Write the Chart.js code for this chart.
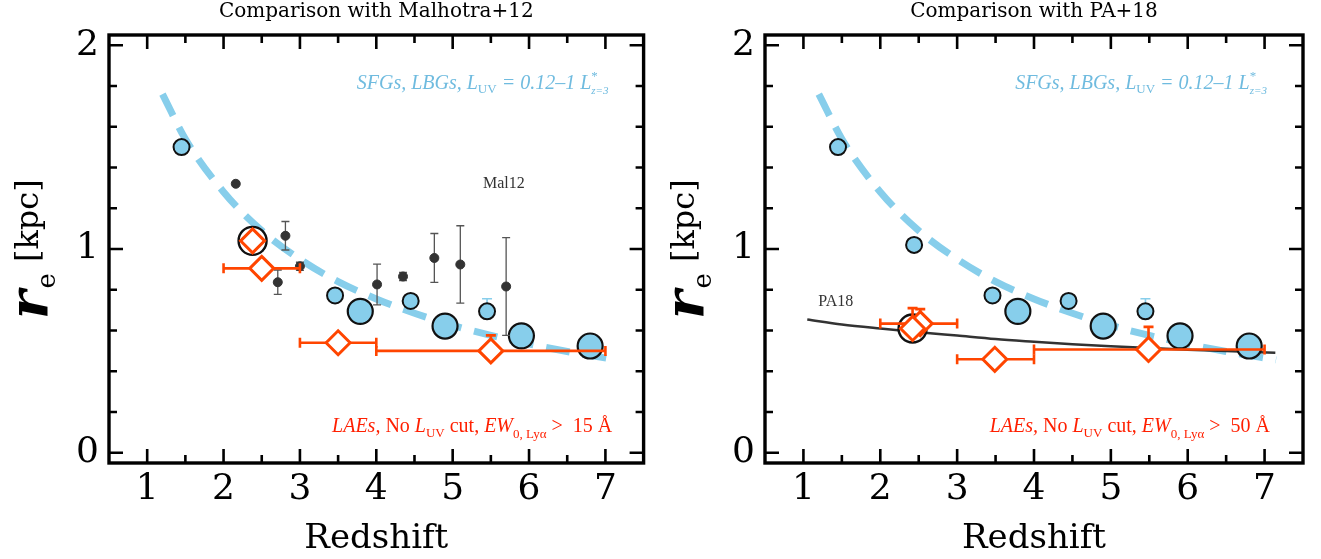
<!DOCTYPE html><html lang="en"><head>
<meta charset="UTF-8">
<title>Size evolution of SFGs and LAEs</title>
<script src="https://cdn.jsdelivr.net/npm/chart.js@4.4.1/dist/chart.umd.min.js"></script>
<style>
  body { margin: 0; background: #fff; }
  #wrap { position: relative; width: 1321px; height: 559px; }
  canvas { position: absolute; top: 0; }
</style>
</head>
<body>
<div id="wrap">
  <canvas id="left" width="660" height="559" style="left:0px"></canvas>
  <canvas id="right" width="661" height="559" style="left:660px"></canvas>
</div>
<script>
// tick values
const xTickVals = [1, 2, 3, 4, 5, 6, 7];
const xMinorVals = [1.5, 2.5, 3.5, 4.5, 5.5, 6.5];
const yTickVals = [0, 1, 2];
const yMinorVals = [0.2, 0.4, 0.6, 0.8, 1.2, 1.4, 1.6, 1.8];

// SFGs / LBGs, L_UV = 0.12-1 L*  (same in both panels)
const sfgSmallZ = [1.45, 2.44, 3.46, 4.45, 5.45];
const sfgSmallR = [1.50, 1.02, 0.772, 0.745, 0.694];
const sfgSmallRhi = [null, null, null, null, 0.756];
const sfgBigZ = [3.79, 4.90, 5.90, 6.80];
const sfgBigR = [0.694, 0.622, 0.574, 0.524];

// dashed fit to the SFGs
const fitZ = [1.2, 1.5, 2, 2.5, 3, 3.5, 4, 4.5, 5, 5.5, 6, 6.5, 7.15];
const fitR = [1.76, 1.54, 1.28, 1.09, 0.95, 0.84, 0.755, 0.685, 0.625, 0.576, 0.534, 0.497, 0.456];

// Malhotra+12 LAEs
const malZ = [2.16, 2.71, 2.81, 3.00, 4.01, 4.35, 4.76, 5.10, 5.70];
const malR = [1.32, 0.837, 1.065, 0.915, 0.826, 0.865, 0.956, 0.924, 0.816];
const malErr = [0, 0.06, 0.07, 0.02, 0.10, 0.02, 0.12, 0.19, 0.24];

// Paulino-Afonso+18 relation
const pa18Z = [1.05, 1.5, 2, 2.5, 3, 3.5, 4, 4.5, 5, 5.5, 6, 6.5, 7.14];
const pa18R = [0.654, 0.630, 0.610, 0.592, 0.575, 0.558, 0.545, 0.533, 0.523, 0.514, 0.506, 0.499, 0.491];

// LAEs, EW > 15 A (left)
const laeLeftZ = [2.38, 2.50, 3.50, 5.50];
const laeLeftR = [1.04, 0.905, 0.54, 0.50];
const laeLeftZlo = [null, 2.0, 3.0, 4.0];
const laeLeftZhi = [null, 3.0, 4.0, 7.0];
const laeLeftRhi = [null, null, null, 0.576];
const ringLeftZ = [2.38];
const ringLeftR = [1.04];

// LAEs, EW > 50 A (right)
const laeRightZ = [2.52, 2.42, 3.49, 5.49];
const laeRightR = [0.634, 0.61, 0.459, 0.507];
const laeRightZlo = [2.0, null, 3.0, 4.0];
const laeRightZhi = [3.0, null, 4.0, 7.0];
const laeRightRhi = [0.705, 0.71, null, 0.618];
const ringRightZ = [2.42];
const ringRightR = [0.61];

const SKY = '#87ceeb';
const ORANGE = '#ff4500';
const SERIF = '"DejaVu Serif", serif';
const TIMES = '"Liberation Serif", serif';

const pts = (xs, ys) => xs.map((v, i) => ({ x: v, y: ys[i] }));

// draw a run of text pieces (sub/superscripts), right-aligned at x
function rich(ctx, parts, xRight, yBase, color) {
  let w = 0;
  parts.forEach(p => { ctx.font = p.f; p.w = ctx.measureText(p.t).width; if (!p.stay) w += p.w; });
  let x = xRight - w;
  ctx.fillStyle = color;
  ctx.textAlign = 'left';
  ctx.textBaseline = 'alphabetic';
  parts.forEach(p => {
    ctx.font = p.f;
    ctx.fillText(p.t, x, yBase + (p.dy || 0));
    if (!p.stay) x += p.w;
  });
}

const errorBars = {
  id: 'errorBars',
  beforeDatasetDraw(chart, args) {
    const ds = chart.data.datasets[args.index];
    const eb = ds.errorBars;
    if (!eb) return;
    const { ctx, scales: { x, y } } = chart;
    ctx.save();
    ctx.strokeStyle = eb.color;
    ctx.lineWidth = eb.width;
    const seg = (a, b, c, d) => { ctx.moveTo(a, b); ctx.lineTo(c, d); };
    ds.data.forEach((p, i) => {
      const px = x.getPixelForValue(p.x), py = y.getPixelForValue(p.y);
      ctx.beginPath();
      if (eb.xLo && eb.xLo[i] != null) {
        const a = x.getPixelForValue(eb.xLo[i]), b = x.getPixelForValue(eb.xHi[i]);
        seg(a, py, b, py);
        seg(a, py - eb.cap, a, py + eb.cap);
        seg(b, py - eb.cap, b, py + eb.cap);
      }
      let hi = null, lo = null;
      if (eb.yErr && eb.yErr[i]) { hi = p.y + eb.yErr[i]; lo = p.y - eb.yErr[i]; }
      if (eb.yHi && eb.yHi[i] != null) hi = eb.yHi[i];
      [hi, lo].forEach(v => {
        if (v == null) return;
        const t = y.getPixelForValue(v);
        seg(px, py, px, t);
        seg(px - eb.cap, t, px + eb.cap, t);
      });
      ctx.stroke();
    });
    ctx.restore();
  }
};

const panel = {
  id: 'panel',
  afterDraw(chart) {
    const { ctx, chartArea: a, scales: { x, y } } = chart;
    const cfg = chart.options.plugins.panel;
    ctx.save();
    ctx.strokeStyle = '#000';
    // inward ticks on all four sides
    const tx = (vals, len) => vals.forEach(v => {
      const p = x.getPixelForValue(v);
      ctx.moveTo(p, a.bottom); ctx.lineTo(p, a.bottom - len);
      ctx.moveTo(p, a.top); ctx.lineTo(p, a.top + len);
    });
    const ty = (vals, len) => vals.forEach(v => {
      const p = y.getPixelForValue(v);
      ctx.moveTo(a.left, p); ctx.lineTo(a.left + len, p);
      ctx.moveTo(a.right, p); ctx.lineTo(a.right - len, p);
    });
    ctx.lineWidth = 2.6;
    ctx.beginPath(); tx(xTickVals, 14); ty(yTickVals, 14); ctx.stroke();
    ctx.beginPath(); tx(xMinorVals, 8); ty(yMinorVals, 8); ctx.stroke();
    ctx.lineWidth = 3.4;
    ctx.strokeRect(a.left, a.top, a.right - a.left, a.bottom - a.top);

    // title and x label
    ctx.fillStyle = '#000';
    ctx.textAlign = 'center';
    ctx.textBaseline = 'alphabetic';
    ctx.font = '20px ' + SERIF;
    ctx.fillText(cfg.title, (a.left + a.right) / 2, 17);
    ctx.font = '34px ' + SERIF;
    ctx.fillText('Redshift', (a.left + a.right) / 2, 548);

    // y label: r_e [kpc], rotated
    ctx.save();
    ctx.translate(a.left - 61, 319);
    ctx.rotate(-Math.PI / 2);
    ctx.textAlign = 'left';
    ctx.font = 'italic bold 54px ' + SERIF;
    ctx.fillText('r', 0, 0);
    const rw = ctx.measureText('r').width;
    ctx.font = '26px ' + SERIF;
    ctx.fillText('e', rw + 2, 7);
    ctx.font = '32px ' + SERIF;
    ctx.fillText('[kpc]', 57, -10);
    ctx.restore();

    // annotations
    const it20 = 'italic 20px ' + TIMES, up20 = '20px ' + TIMES;
    rich(ctx, [
      { t: 'SFGs, LBGs, L', f: it20 },
      { t: 'UV', f: '13px ' + TIMES, dy: 4 },
      { t: ' = 0.12\u20131 L', f: it20 },
      { t: '*', f: '13px ' + TIMES, dy: -9, stay: true },
      { t: 'z=3', f: 'italic 11px ' + TIMES, dy: 5 }
    ], x.getPixelForValue(cfg.sfgRight), y.getPixelForValue(1.785), '#6fbbdf');
    rich(ctx, [
      { t: 'LAEs,', f: it20 },
      { t: ' No ', f: up20 },
      { t: 'L', f: it20 },
      { t: 'UV', f: '13px ' + TIMES, dy: 5 },
      { t: ' cut, ', f: up20 },
      { t: 'EW', f: it20 },
      { t: '0, Ly\u03b1', f: '13px ' + TIMES, dy: 6 },
      { t: ' >  ' + cfg.ewCut + ' \u00c5', f: up20 }
    ], x.getPixelForValue(cfg.laeRight), y.getPixelForValue(0.104), '#ff1f00');
    ctx.font = '16px ' + TIMES;
    ctx.fillStyle = '#333';
    ctx.textAlign = 'center';
    ctx.fillText(cfg.refLabel, x.getPixelForValue(cfg.refZ), y.getPixelForValue(cfg.refR));
    ctx.restore();
  }
};

function sharedSets() {
  return [
    { label: 'fit', data: pts(fitZ, fitR), showLine: true, borderColor: SKY, borderWidth: 7,
      borderDash: [24, 13], pointRadius: 0, cubicInterpolationMode: 'monotone', order: 9 },
    { label: 'SFG small', data: pts(sfgSmallZ, sfgSmallR), pointRadius: 8, backgroundColor: SKY,
      borderColor: '#111', borderWidth: 2, order: 7,
      errorBars: { yHi: sfgSmallRhi, color: SKY, width: 1.6, cap: 5 } },
    { label: 'SFG big', data: pts(sfgBigZ, sfgBigR), pointRadius: 12.5, backgroundColor: SKY,
      borderColor: '#111', borderWidth: 2.2, order: 6 }
  ];
}

function makeChart(id, extraSets, opt) {
  return new Chart(document.getElementById(id), {
    type: 'scatter',
    data: { datasets: sharedSets().concat(extraSets) },
    options: {
      responsive: false,
      animation: false,
      devicePixelRatio: 1,
      events: [],
      layout: { padding: { left: 0, right: opt.padRight, top: 35, bottom: 0 } },
      plugins: { legend: { display: false }, tooltip: { enabled: false }, panel: opt },
      scales: {
        x: {
          type: 'linear', min: 0.5, max: 7.5,
          grid: { display: false, drawTicks: false }, border: { display: false },
          afterBuildTicks: s => { s.ticks = xTickVals.map(v => ({ value: v })); },
          afterFit: s => { s.height = 96; },
          ticks: { padding: 5, color: '#000', maxRotation: 0, autoSkip: false,
                   font: { family: SERIF, size: 36 } }
        },
        y: {
          type: 'linear', min: -0.05, max: 2.05,
          grid: { display: false, drawTicks: false }, border: { display: false },
          afterBuildTicks: s => { s.ticks = yTickVals.map(v => ({ value: v })); },
          afterFit: s => { s.width = opt.yWidth; },
          ticks: { padding: 10, color: '#000', autoSkip: false,
                   font: { family: SERIF, size: 36 } }
        }
      }
    },
    plugins: [errorBars, panel]
  });
}

const lae = (z, r, zlo, zhi, rhi) => ({
  label: 'LAE', data: pts(z, r), pointStyle: 'rectRot', pointRadius: 12,
  backgroundColor: '#fff', borderColor: ORANGE, borderWidth: 3, order: 1,
  errorBars: { xLo: zlo, xHi: zhi, yHi: rhi, color: ORANGE, width: 2.6, cap: 5 }
});
const ring = (z, r) => ({
  label: 'ring', data: pts(z, r), pointRadius: 14, backgroundColor: '#fff',
  borderColor: '#111', borderWidth: 2.4, order: 2
});

makeChart('left', [
  { label: 'Mal12', data: pts(malZ, malR), pointRadius: 4.5, backgroundColor: '#333',
    borderColor: '#333', borderWidth: 1, order: 4,
    errorBars: { yErr: malErr, color: '#555', width: 1.3, cap: 4 } },
  ring(ringLeftZ, ringLeftR),
  lae(laeLeftZ, laeLeftR, laeLeftZlo, laeLeftZhi, laeLeftRhi)
], { padRight: 13, yWidth: 109, title: 'Comparison with Malhotra+12',
     sfgRight: 7.04, laeRight: 7.09, ewCut: 15, refLabel: 'Mal12', refZ: 5.67, refR: 1.30 });

makeChart('right', [
  { label: 'PA18', data: pts(pa18Z, pa18R), showLine: true, borderColor: '#333', borderWidth: 2.5,
    pointRadius: 0, cubicInterpolationMode: 'monotone', order: 8 },
  ring(ringRightZ, ringRightR),
  lae(laeRightZ, laeRightR, laeRightZlo, laeRightZhi, laeRightRhi)
], { padRight: 18, yWidth: 105, title: 'Comparison with PA+18',
     sfgRight: 7.03, laeRight: 7.07, ewCut: 50, refLabel: 'PA18', refZ: 1.42, refR: 0.72 });
</script>
</body></html>
